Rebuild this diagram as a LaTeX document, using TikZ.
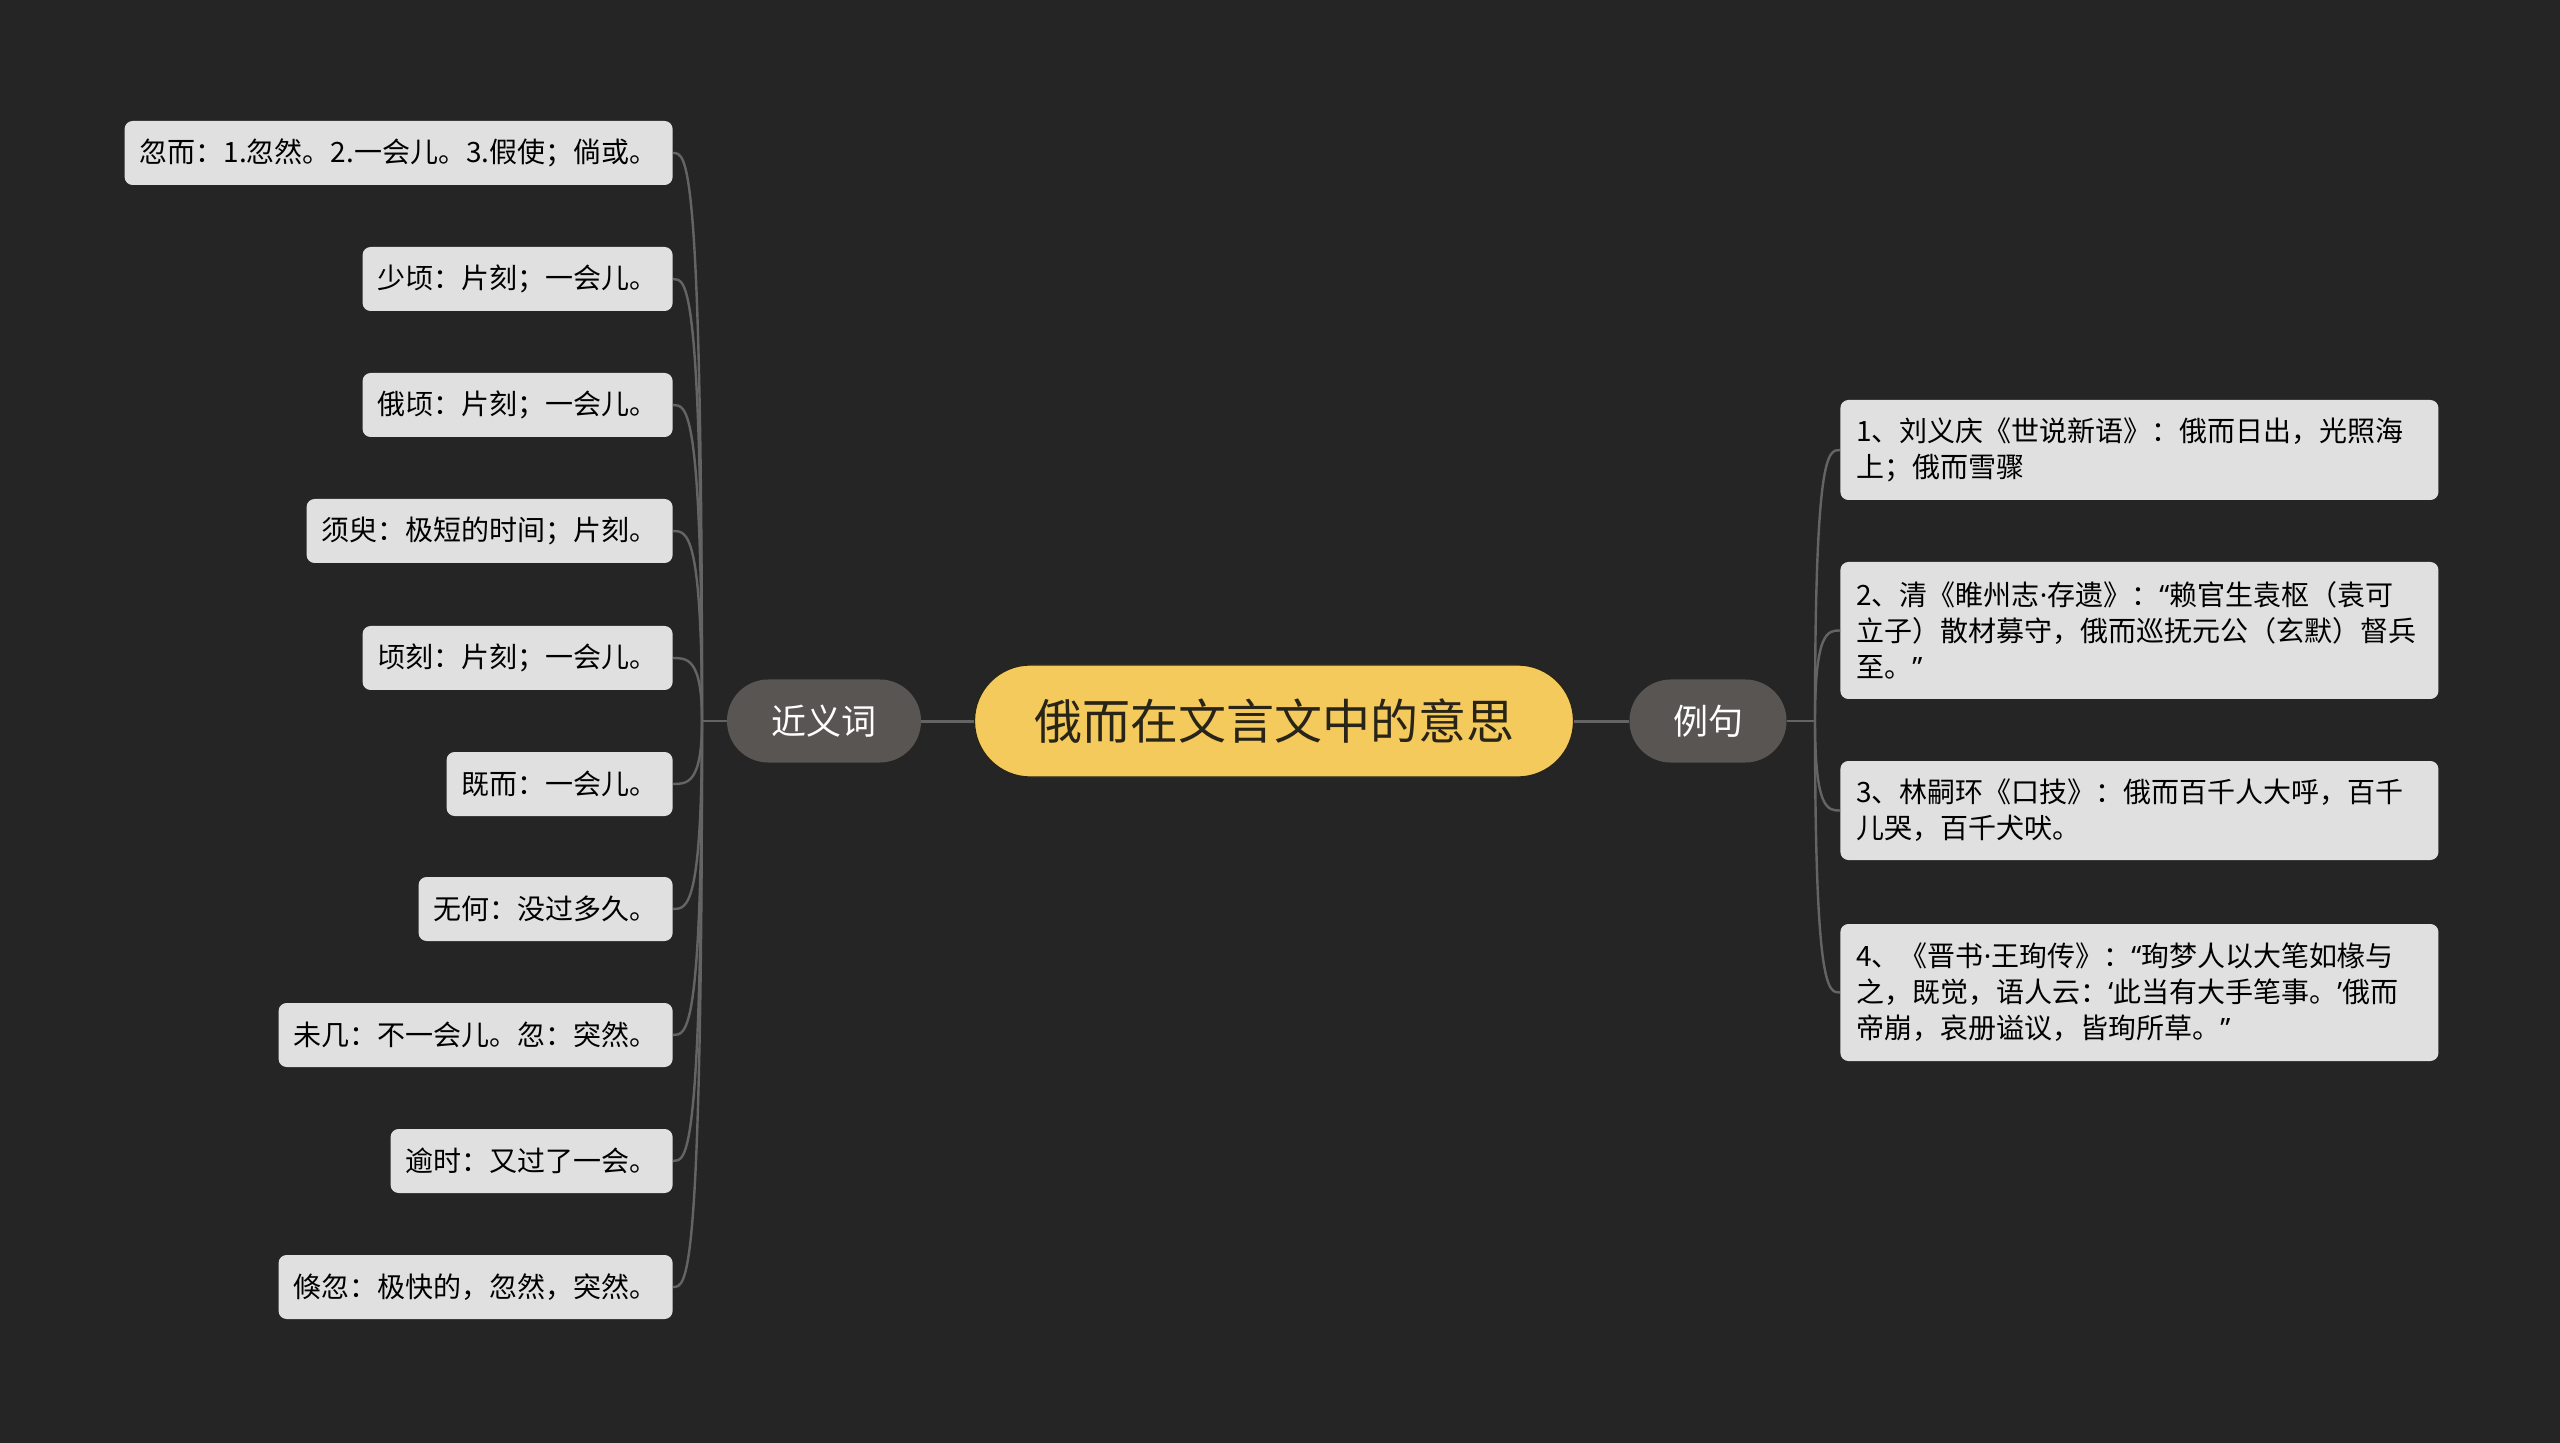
\documentclass[tikz,border=0pt]{standalone}
\usepackage{fontspec}
\setmainfont{Noto Sans CJK SC}
\newfontfamily\narrowfont{Noto Sans}
\newcommand{\myldq}{{\narrowfont “}}
\newcommand{\myrdq}{{\narrowfont ”}}
\newcommand{\mylsq}{{\narrowfont ‘}}
\newcommand{\myrsq}{{\narrowfont ’}}
\newcommand{\mydot}{{\narrowfont ·}}
\definecolor{bgc}{RGB}{37,37,37}
\definecolor{rootc}{RGB}{245,202,92}
\definecolor{rootline}{RGB}{40,36,20}
\definecolor{branchc}{RGB}{88,85,83}
\definecolor{leafc}{RGB}{224,224,224}
\definecolor{linec}{RGB}{100,100,100}
\definecolor{roottext}{RGB}{40,36,24}
\tikzset{
  rootnode/.style={fill=rootc, draw=rootline, line width=0.6pt, rounded corners=27.9pt,
    minimum width=299.5pt, minimum height=56pt, inner sep=0pt,
    text=roottext, font=\fontsize{24pt}{28pt}\selectfont},
  branchnode/.style={fill=branchc, rounded corners=20.6pt, minimum height=41.5pt,
    inner sep=0pt, text=white, font=\fontsize{17.5pt}{20pt}\selectfont},
  leafl/.style={fill=leafc, rounded corners=4pt, minimum height=32pt, inner ysep=0pt,
    inner xsep=7.5pt, text=black, font=\fontsize{14pt}{18pt}\selectfont, anchor=east},
  leafr/.style={fill=leafc, rounded corners=4pt, inner ysep=0pt, inner xsep=8pt,
    text width=283pt, align=left, text=black, font=\fontsize{14pt}{18pt}\selectfont, anchor=west},
  mainconn/.style={draw=linec, line width=1.5pt},
  leafconn/.style={draw=linec, line width=1.2pt},
}
\begin{document}
\begin{tikzpicture}[x=0.5pt,y=-0.5pt]
\path[fill=bgc] (0,0) rectangle (2560,1443);
\useasboundingbox (0,0) rectangle (2560,1443);

\node[rootnode] (root) at (1274,721) {俄而在文言文中的意思};
\node[branchnode, minimum width=97pt] (syn) at (824,721) {近义词};
\node[branchnode, minimum width=78.5pt] (ex) at (1708,721) {例句};

\coordinate (lt) at (702,721);
\coordinate (rt) at (1815,721);

\node[leafl] (l1) at (673,153) {忽而：1.忽然。2.一会儿。3.假使；倘或。};
\node[leafl] (l2) at (673,279) {少顷：片刻；一会儿。};
\node[leafl] (l3) at (673,405) {俄顷：片刻；一会儿。};
\node[leafl] (l4) at (673,531) {须臾：极短的时间；片刻。};
\node[leafl] (l5) at (673,658) {顷刻：片刻；一会儿。};
\node[leafl] (l6) at (673,784) {既而：一会儿。};
\node[leafl] (l7) at (673,909) {无何：没过多久。};
\node[leafl] (l8) at (673,1035) {未几：不一会儿。忽：突然。};
\node[leafl] (l9) at (673,1161) {逾时：又过了一会。};
\node[leafl] (l10) at (673,1287) {倏忽：极快的，忽然，突然。};

\node[leafr, minimum height=50pt] (r1) at (1840,450) {1、刘义庆《世说新语》：俄而日出，光照海\\上；俄而雪骤};
\node[leafr, minimum height=68.5pt] (r2) at (1840,630.5) {2、清《睢州志\mydot 存遗》：\myldq 赖官生袁枢（袁可\\立子）散材募守，俄而巡抚元公（玄默）督兵\\至。\myrdq};
\node[leafr, minimum height=49.5pt] (r3) at (1840,810.5) {3、林嗣环《口技》：俄而百千人大呼，百千\\儿哭，百千犬吠。};
\node[leafr, minimum height=68.5pt] (r4) at (1840,992.5) {4、《晋书\mydot 王珣传》：\myldq 珣梦人以大笔如椽与\\之，既觉，语人云：\mylsq 此当有大手笔事。\myrsq 俄而\\帝崩，哀册谥议，皆珣所草。\myrdq};

\draw[mainconn] (root.west) -- (syn.east);
\draw[mainconn] (root.east) -- (ex.west);
\draw[leafconn] (syn.west) -- (lt);
\draw[leafconn] (ex.east) -- (rt);

\foreach \n in {l1,l2,l3,l4,l5,l6,l7,l8,l9,l10}{
  \draw[leafconn] (lt) .. controls (lt |- \n.east) and ([xshift=7pt]\n.east) .. (\n.east);
}
\foreach \n in {r1,r2,r3,r4}{
  \draw[leafconn] (rt) .. controls (rt |- \n.west) and ([xshift=-6pt]\n.west) .. (\n.west);
}
\end{tikzpicture}
\end{document}
